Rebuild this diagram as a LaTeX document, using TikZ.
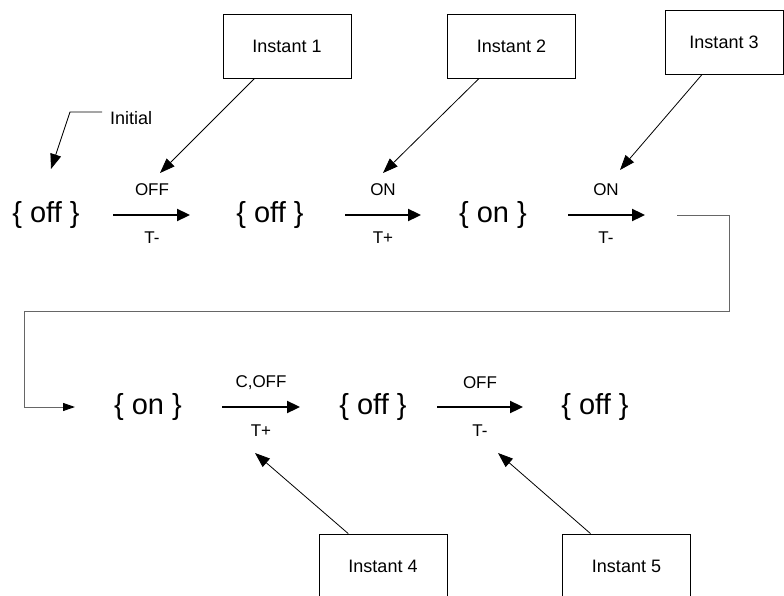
\documentclass[tikz,border=0pt]{standalone}
\usepackage{fontspec}
\setmainfont{Liberation Sans}
\usetikzlibrary{arrows.meta}
\begin{document}
\begin{tikzpicture}[x=1pt,y=-1pt,
		state/.style={font=\fontsize{29}{31}\selectfont, inner sep=0pt},
		lbl/.style={font=\fontsize{17}{19}\selectfont, inner sep=0pt},
		instant/.style={draw, line width=0.8pt, minimum width=128pt, minimum height=64pt, inner sep=0pt, font=\fontsize{18}{20}\selectfont},
		trans/.style={line width=2.3pt, -{Triangle[length=13pt,width=12pt]}},
		pointer/.style={line width=0.8pt, -{Triangle[length=15pt,width=11pt]}},
		wrap/.style={draw=black!60, line width=1pt, -{Triangle[length=12pt,width=8pt,color=black]}}]

	\useasboundingbox (0,0) rectangle (784,596);
	\clip (0,0) rectangle (784,596);

	% states
	\node [state] (s1) at (46,215) {\{ off \}};
	\node [state] (s2) at (270,215) {\{ off \}};
	\node [state] (s3) at (493,215) {\{ on \}};
	\node [state] (s4) at (148,407) {\{ on \}};
	\node [state] (s5) at (373,407) {\{ off \}};
	\node [state] (s6) at (595,407) {\{ off \}};

	% transitions
	\coordinate (t1a) at (113,215); \coordinate (t1b) at (190,215);
	\coordinate (t2a) at (345,215); \coordinate (t2b) at (421,215);
	\coordinate (t3a) at (568,215); \coordinate (t3b) at (645,215);
	\coordinate (t4a) at (222,407); \coordinate (t4b) at (300,407);
	\coordinate (t5a) at (437,407); \coordinate (t5b) at (523,407);
	\draw [trans] (t1a) -- (t1b);
	\draw [trans] (t2a) -- (t2b);
	\draw [trans] (t3a) -- (t3b);
	\draw [trans] (t4a) -- (t4b);
	\draw [trans] (t5a) -- (t5b);

	\node [lbl] (e1) at (152,190) {OFF};  \node [lbl] (c1) at (152,238) {T-};
	\node [lbl] (e2) at (383,190) {ON};   \node [lbl] (c2) at (383,238) {T+};
	\node [lbl] (e3) at (606,190) {ON};   \node [lbl] (c3) at (606,238) {T-};
	\node [lbl] (e4) at (261,383) {C,OFF}; \node [lbl] (c4) at (261,431) {T+};
	\node [lbl] (e5) at (480,383) {OFF};  \node [lbl] (c5) at (480,431) {T-};

	% line wrap
	\coordinate (w0) at (677,215); \coordinate (w1) at (729,215);
	\coordinate (w2) at (729,311); \coordinate (w3) at (24,311);
	\coordinate (w4) at (24,407);  \coordinate (w5) at (75,407);
	\draw [wrap] (w0) -- (w1) -- (w2) -- (w3) -- (w4) -- (w5);

	% instants
	\node [instant] (i1) at (287,46) {Instant 1};
	\node [instant] (i2) at (511.5,46) {Instant 2};
	\node [instant, minimum width=118pt] (i3) at (724,42) {Instant 3};
	\node [instant] (i4) at (383,566) {Instant 4};
	\node [instant] (i5) at (626.5,566) {Instant 5};

	\coordinate (p1) at (160,173);
	\coordinate (p2) at (383,173);
	\coordinate (p3) at (620,170);
	\coordinate (p4) at (255,453);
	\coordinate (p5) at (498,453);
	\draw [pointer] (i1.-135) -- (p1);
	\draw [pointer] (i2.-135) -- (p2);
	\draw [pointer] (i3.-124.5) -- (p3);
	\draw [pointer] (i4.137.6) -- (p4);
	\draw [pointer] (i5.138) -- (p5);

	% initial
	\node [lbl, font=\fontsize{18}{20}\selectfont, anchor=west] (init) at (110,118) {Initial};
	\coordinate (q0) at (102,112); \coordinate (q1) at (70,112); \coordinate (q2) at (51,169);
	\draw [pointer] (q0) -- (q1) -- (q2);

\end{tikzpicture}
\end{document}
